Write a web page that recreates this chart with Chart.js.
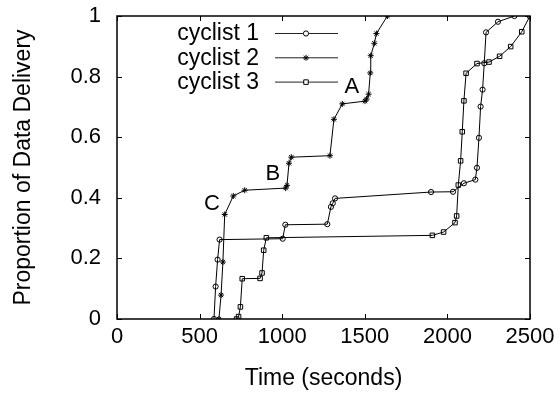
<!DOCTYPE html>
<html>
<head>
<meta charset="utf-8">
<script src="https://cdn.jsdelivr.net/npm/chart.js@4/dist/chart.umd.min.js"></script>
<style>
  html, body { margin: 0; padding: 0; background: #fff; }
  #wrap { width: 560px; height: 394px; position: relative; }
</style>
</head>
<body>
<div id="wrap"><canvas id="chart"></canvas></div>
<script>
// Dữ liệu (thời gian tính bằng giây, tỉ lệ dữ liệu đã giao)
const cyclist1X = [587, 597, 609, 621, 1003, 1019, 1273, 1295, 1306, 1320, 1901, 2034, 2100, 2169, 2179, 2191, 2201, 2213, 2223, 2234, 2306, 2405];
const cyclist1Y = [0, 0.107, 0.196, 0.262, 0.265, 0.311, 0.313, 0.37, 0.382, 0.398, 0.419, 0.420, 0.448, 0.460, 0.499, 0.598, 0.701, 0.757, 0.844, 0.946, 0.981, 1];

const cyclist2X = [617, 630, 641, 652, 704, 773, 1021, 1029, 1041, 1055, 1289, 1313, 1364, 1501, 1511, 1523, 1533, 1536, 1558, 1570, 1637];
const cyclist2Y = [0, 0.079, 0.188, 0.345, 0.406, 0.425, 0.432, 0.441, 0.514, 0.534, 0.539, 0.659, 0.710, 0.719, 0.726, 0.742, 0.812, 0.869, 0.910, 0.942, 1];

const cyclist3X = [724, 736, 747, 758, 866, 878, 888, 904, 1909, 1977, 2046, 2056, 2066, 2080, 2090, 2100, 2113, 2179, 2252, 2316, 2383, 2450, 2500];
const cyclist3Y = [0, 0.008, 0.040, 0.133, 0.134, 0.152, 0.227, 0.268, 0.276, 0.287, 0.318, 0.340, 0.442, 0.522, 0.618, 0.720, 0.811, 0.843, 0.848, 0.867, 0.899, 0.948, 1];

const seriesNames = ['cyclist 1', 'cyclist 2', 'cyclist 3'];
const xTicks = [0, 500, 1000, 1500, 2000, 2500];
const yTicks = [0, 0.2, 0.4, 0.6, 0.8, 1];

// Nhãn chú thích trên biểu đồ (toạ độ dữ liệu)
const noteTexts = ['A', 'B', 'C'];
const noteX = [1422, 944, 575];
const noteY = [0.769, 0.482, 0.383];

const FONT = "'Liberation Sans', Arial, Helvetica, sans-serif";

function toPoints(xs, ys) {
    return xs.map((x, i) => ({ x: x, y: ys[i] }));
}

const pointStyles = ['circle', 'star', 'rect'];
const pointRadii = [2.6, 3, 3.2];

const datasets = [
    toPoints(cyclist1X, cyclist1Y),
    toPoints(cyclist2X, cyclist2Y),
    toPoints(cyclist3X, cyclist3Y)
].map((pts, i) => ({
    label: seriesNames[i],
    data: pts,
    showLine: true,
    borderColor: '#000',
    borderWidth: 1,
    backgroundColor: 'rgba(0,0,0,0)',
    pointStyle: pointStyles[i],
    pointRadius: pointRadii[i],
    pointBorderColor: '#000',
    pointBorderWidth: 1,
    pointBackgroundColor: 'rgba(0,0,0,0)',
    tension: 0
}));

// Vẽ khung, vạch chia hướng vào trong, chú giải và nhãn A/B/C
const framePlugin = {
    id: 'frame',
    afterDatasetsDraw(chart) {
        const ctx = chart.ctx;
        const a = chart.chartArea;
        const xs = chart.scales.x;
        const ys = chart.scales.y;
        const tl = 5;
        ctx.save();
        ctx.strokeStyle = '#000';
        ctx.lineWidth = 1.5;
        ctx.strokeRect(a.left, a.top, a.right - a.left, a.bottom - a.top);
        ctx.lineWidth = 1;
        ctx.beginPath();
        xTicks.forEach(v => {
            const px = Math.round(xs.getPixelForValue(v)) + 0.5;
            ctx.moveTo(px, a.bottom); ctx.lineTo(px, a.bottom - tl);
            ctx.moveTo(px, a.top); ctx.lineTo(px, a.top + tl);
        });
        yTicks.forEach(v => {
            const py = Math.round(ys.getPixelForValue(v)) + 0.5;
            ctx.moveTo(a.left, py); ctx.lineTo(a.left + tl, py);
            ctx.moveTo(a.right, py); ctx.lineTo(a.right - tl, py);
        });
        ctx.stroke();

        // Chú giải kiểu gnuplot: chữ bên trái, đoạn mẫu bên phải
        ctx.font = '23px ' + FONT;
        ctx.textAlign = 'right';
        ctx.textBaseline = 'middle';
        chart.data.datasets.forEach((ds, i) => {
            const y = 33 + i * 24.3;
            ctx.fillStyle = '#000';
            ctx.fillText(ds.label, 259, y + 1);
            ctx.strokeStyle = '#222';
            ctx.lineWidth = 1;
            ctx.beginPath();
            ctx.moveTo(275, y + 0.5);
            ctx.lineTo(338, y + 0.5);
            ctx.stroke();
            ctx.fillStyle = '#fff';
            ctx.strokeStyle = '#000';
            Chart.helpers.drawPoint(ctx, {
                pointStyle: ds.pointStyle,
                radius: ds.pointRadius,
                borderWidth: 1
            }, 306, y + 0.5);
        });

        ctx.fillStyle = '#000';
        ctx.font = '22px ' + FONT;
        ctx.textAlign = 'center';
        noteTexts.forEach((t, i) => {
            ctx.fillText(t, xs.getPixelForValue(noteX[i]), ys.getPixelForValue(noteY[i]) + 1);
        });
        ctx.restore();
    }
};

new Chart(document.getElementById('chart'), {
    type: 'scatter',
    data: { datasets: datasets },
    options: {
        responsive: true,
        maintainAspectRatio: false,
        animation: false,
        layout: { padding: { top: 16, right: 30, left: 0, bottom: 0 } },
        plugins: {
            legend: { display: false },
            tooltip: { enabled: false }
        },
        scales: {
            x: {
                type: 'linear',
                min: 0,
                max: 2500,
                afterFit: s => { s.height = 75; s.paddingLeft = 0; s.paddingRight = 0; },
                afterBuildTicks: s => { s.ticks = xTicks.map(v => ({ value: v })); },
                grid: { display: false, drawTicks: false },
                border: { display: false },
                ticks: {
                    color: '#000',
                    padding: 5,
                    maxRotation: 0,
                    font: { family: FONT, size: 22 },
                    callback: v => String(v)
                },
                title: {
                    display: true,
                    text: 'Time (seconds)',
                    color: '#000',
                    font: { family: FONT, size: 23 },
                    padding: { top: 0, bottom: 2 }
                }
            },
            y: {
                type: 'linear',
                min: 0,
                max: 1,
                afterFit: s => { s.width = 117; s.paddingTop = 0; s.paddingBottom = 0; },
                afterBuildTicks: s => { s.ticks = yTicks.map(v => ({ value: v })); },
                grid: { display: false, drawTicks: false },
                border: { display: false },
                ticks: {
                    color: '#000',
                    padding: 16,
                    font: { family: FONT, size: 22 },
                    callback: v => String(Math.round(v * 10) / 10)
                },
                title: {
                    display: true,
                    text: 'Proportion of Data Delivery',
                    color: '#000',
                    font: { family: FONT, size: 23 },
                    padding: { top: 10, bottom: 0 }
                }
            }
        }
    },
    plugins: [framePlugin]
});
</script>
</body>
</html>
